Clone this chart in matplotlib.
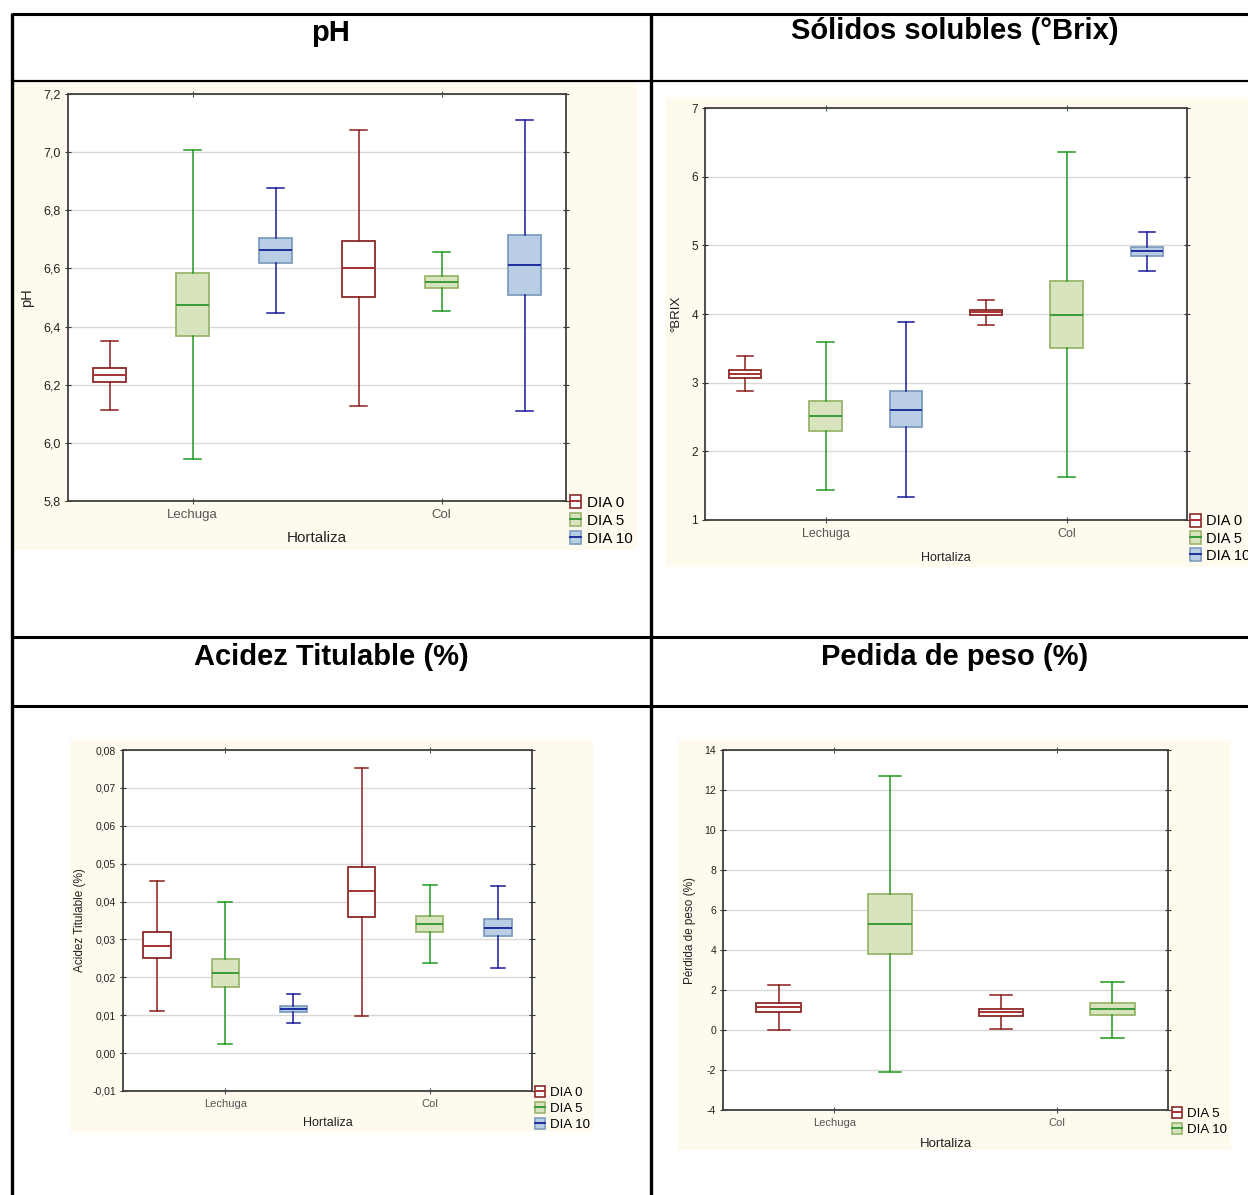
import matplotlib

matplotlib.use("Agg")
import matplotlib.pyplot as plt
from matplotlib.lines import Line2D
from matplotlib.patches import Patch, Rectangle
from matplotlib.legend_handler import HandlerTuple
from matplotlib.ticker import FuncFormatter

plt.rcParams["font.family"] = ["Liberation Sans", "DejaVu Sans"]

W, H = 1248, 1195

# ---- data (whisker low, q1, median, q3, whisker high) ----
CATS = ["Lechuga", "Col"]
DAYS = ["DIA 0", "DIA 5", "DIA 10"]

PH_LO = [6.114, 5.946, 6.445, 6.127, 6.452, 6.111]
PH_Q1 = [6.210, 6.368, 6.619, 6.503, 6.533, 6.510]
PH_MED = [6.234, 6.474, 6.662, 6.600, 6.554, 6.613]
PH_Q3 = [6.257, 6.583, 6.705, 6.695, 6.573, 6.714]
PH_HI = [6.352, 7.006, 6.876, 7.075, 6.655, 7.112]

BX_LO = [2.873, 1.437, 1.340, 3.843, 1.631, 4.624]
BX_Q1 = [3.072, 2.296, 2.354, 3.988, 3.508, 4.847]
BX_MED = [3.130, 2.509, 2.606, 4.027, 3.984, 4.919]
BX_Q3 = [3.183, 2.732, 2.873, 4.061, 4.478, 4.978]
BX_HI = [3.382, 3.591, 3.887, 4.202, 6.360, 5.201]

AC_LO = [0.0112, 0.0025, 0.0079, 0.0099, 0.0239, 0.0224]
AC_Q1 = [0.0250, 0.0174, 0.0108, 0.0358, 0.0320, 0.0309]
AC_MED = [0.0284, 0.0211, 0.0116, 0.0427, 0.0342, 0.0331]
AC_Q3 = [0.0320, 0.0249, 0.0125, 0.0492, 0.0363, 0.0354]
AC_HI = [0.0455, 0.0399, 0.0155, 0.0753, 0.0443, 0.0440]

PP_DAYS = ["DIA 5", "DIA 10"]
PP_LO = [0.00, -2.12, 0.04, -0.38]
PP_Q1 = [0.90, 3.78, 0.70, 0.75]
PP_MED = [1.14, 5.29, 0.90, 1.04]
PP_Q3 = [1.37, 6.80, 1.07, 1.34]
PP_HI = [2.25, 12.72, 1.73, 2.42]

# style per series: (face, edge, whisker, median)
STY = {
    "red": ("white", "#8b2a2a", "#8b1e1e", "#a83232"),
    "green": ("#d7e4bd", "#9ab56e", "#1f9a1f", "#3a9a3a"),
    "blue": ("#b9cde5", "#7f9cc0", "#1a1a9a", "#1c2fa0"),
}

fig = plt.figure(figsize=(W / 100, H / 100), dpi=100)
fig.patch.set_facecolor("white")


def px_rect(x0, y0, x1, y1):
    return [x0 / W, 1 - y1 / H, (x1 - x0) / W, (y1 - y0) / H]


def cream(x0, y0, x1, y1):
    fig.add_artist(Rectangle((x0 / W, 1 - y1 / H), (x1 - x0) / W, (y1 - y0) / H,
                             transform=fig.transFigure, facecolor="#fffaee",
                             edgecolor="none", zorder=-5))


def fig_line(x0, y0, x1, y1, lw):
    fig.add_artist(Line2D([x0 / W, x1 / W], [1 - y0 / H, 1 - y1 / H],
                          transform=fig.transFigure, color="black", lw=lw,
                          solid_capstyle="butt"))


def panel(box, lo, q1, med, q3, hi, colors, labels, ylim, yticks, fmt,
          ylabel, fs, leg_xy, ylab_px, xlab_px):
    x0, y0, x1, y1 = box
    ax = fig.add_axes(px_rect(x0, y0, x1, y1))
    n = len(lo)
    per = n // 2
    for i in range(n):
        face, edge, wc, mc = STY[colors[i % per]]
        st = [{"whislo": lo[i], "q1": q1[i], "med": med[i], "q3": q3[i],
               "whishi": hi[i], "fliers": []}]
        ax.bxp(st, positions=[i + 0.5], widths=0.4, patch_artist=True,
               showfliers=False,
               boxprops=dict(facecolor=face, edgecolor=edge, lw=1.3),
               whiskerprops=dict(color=wc, lw=1.1),
               capprops=dict(color=wc, lw=1.1),
               medianprops=dict(color=mc, lw=1.4),
               manage_ticks=False, zorder=3)
    ax.set_xlim(0, n)
    ax.set_ylim(*ylim)
    ax.set_yticks(yticks)
    ax.yaxis.set_major_formatter(FuncFormatter(fmt))
    ax.set_xticks([per / 2, per + per / 2])
    ax.set_xticklabels(CATS, fontsize=fs[1], color="#222222")
    ax.tick_params(axis="y", labelsize=fs[0], colors="#333333",
                   labelcolor="#222222", length=4, direction="inout", pad=3,
                   right=True)
    ax.tick_params(axis="x", length=4, direction="inout", top=True, pad=4,
                   colors="#555555")
    ax.grid(axis="y", color="#d9d9d9", lw=1.0, zorder=0)
    ax.set_axisbelow(True)
    for s in ax.spines.values():
        s.set_color("#404040")
        s.set_linewidth(1.3)
    ax.set_ylabel(ylabel, fontsize=fs[3], color="#222222")
    ax.yaxis.set_label_coords((ylab_px - x0) / (x1 - x0), 0.5)
    ax.set_xlabel("Hortaliza", fontsize=fs[2], color="#222222")
    ax.xaxis.set_label_coords(0.5, (y1 - xlab_px) / (y1 - y0))
    handles = []
    for j, lab in enumerate(labels):
        face, edge, wc, mc = STY[colors[j]]
        handles.append((Patch(facecolor=face, edgecolor=edge, lw=1.2),
                        Line2D([], [], color=mc, lw=1.4)))
    fig.legend(handles, labels, loc="upper left",
               bbox_to_anchor=(leg_xy[0] / W, 1 - leg_xy[1] / H),
               frameon=False, fontsize=fs[4], handlelength=0.75,
               handleheight=0.95, handletextpad=0.35, labelspacing=0.2,
               borderpad=0, borderaxespad=0,
               handler_map={tuple: HandlerTuple(ndivide=1, pad=0)})
    return ax


# table frame
fig_line(12, 14, W, 14, 2.2)
fig_line(12, 81, W, 81, 1.6)
fig_line(12, 637, W, 637, 2.2)
fig_line(12, 706, W, 706, 2.2)
fig_line(12, 13, 12, H, 2.4)
fig_line(651, 13, 651, H, 2.4)

# titles
tkw = dict(ha="center", va="center", fontsize=21, fontweight="bold",
           color="black")
fig.text(331 / W, 1 - 33 / H, "pH", **tkw)
fig.text(955 / W, 1 - 31 / H, "Sólidos solubles (°Brix)", **tkw)
fig.text(331 / W, 1 - 657 / H, "Acidez Titulable (%)", **tkw)
fig.text(955 / W, 1 - 657 / H, "Pedida de peso (%)", **tkw)

# cream backgrounds
cream(13, 82, 637, 550)
cream(665, 97, W, 567)
cream(70, 740, 593, 1132)
cream(678, 740, 1231, 1150)

col3 = ["red", "green", "blue"]

panel((68, 94, 566, 501), PH_LO, PH_Q1, PH_MED, PH_Q3, PH_HI, col3, DAYS,
      (5.8, 7.2), [5.8 + 0.2 * k for k in range(8)],
      lambda v, p: f"{v:.1f}".replace(".", ","), "pH",
      (9, 9.5, 11, 10.5, 11), (570, 495), 34, 531)

panel((705, 108, 1187, 520), BX_LO, BX_Q1, BX_MED, BX_Q3, BX_HI, col3, DAYS,
      (1, 7), list(range(1, 8)), lambda v, p: f"{v:.0f}", "°BRIX",
      (8.5, 9, 9, 9.5, 10.5), (1190, 514), 682, 552)

panel((123, 750, 532, 1091), AC_LO, AC_Q1, AC_MED, AC_Q3, AC_HI, col3, DAYS,
      (-0.01, 0.08), [-0.01 + 0.01 * k for k in range(10)],
      lambda v, p: f"{v:.2f}".replace(".", ",").replace("-0,00", "0,00"),
      "Acidez Titulable (%)", (7.5, 8, 9, 8.5, 9.5), (535, 1086), 86, 1117)

panel((723, 750, 1168, 1110), PP_LO, PP_Q1, PP_MED, PP_Q3, PP_HI,
      ["red", "green"], PP_DAYS, (-4, 14), list(range(-4, 15, 2)),
      lambda v, p: f"{v:.0f}", "Pérdida de peso (%)",
      (7.5, 8, 9.5, 8.5, 9.5), (1172, 1107), 696, 1138)

fig.savefig("out.png", dpi=100, facecolor="white")
